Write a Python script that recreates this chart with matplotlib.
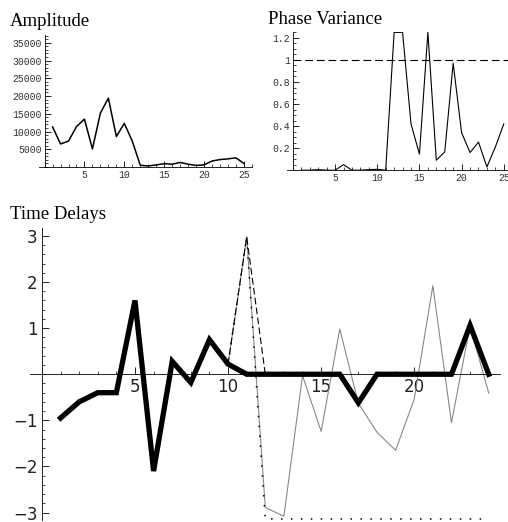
import numpy as np
import matplotlib
matplotlib.use('Agg')
import matplotlib.pyplot as plt
from matplotlib.ticker import FixedLocator, MultipleLocator, FixedFormatter

# amplitude per bin
amp_x = list(range(1, 26))
amp = [11300, 6500, 7300, 11400, 13500, 5100, 15200, 19400, 8600, 12300,
       7300, 500, 300, 600, 950, 800, 1300, 800, 450, 600,
       1700, 2100, 2300, 2600, 1000]

# phase variance per bin
ph_x = list(range(1, 26))
phase_var = [0.0, 0.0, 0.005, 0.0, 0.0, 0.05, 0.0, 0.0, 0.005, 0.008,
             0.0, 1.25, 1.25, 0.42, 0.145, 1.25, 0.09, 0.165, 0.97, 0.34,
             0.16, 0.255, 0.03, 0.21, 0.42]
threshold = 1.0

# time delays
td_x = list(range(1, 25))
delay_raw = [-0.95, -0.6, -0.4, -0.4, 1.6, -2.1, 0.28, -0.18, 0.75, 0.22,
             2.98, -2.89, -3.08, -0.03, -1.24, 0.98, -0.63, -1.26, -1.65, -0.54,
             1.92, -1.05, 1.05, -0.41]
delay_sel = [-0.95, -0.6, -0.4, -0.4, 1.6, -2.1, 0.28, -0.18, 0.75, 0.22,
             0, 0, 0, 0, 0, 0, -0.62, 0, 0, 0,
             0, 0, 1.06, 0]
dash_x = [10, 11, 12]
delay_dash = [0.22, 2.98, 0.0]
dot_x = list(range(10, 25))
delay_dot = [0.22, 2.98] + [-3.14] * 13

amp_ticks = [5000, 10000, 15000, 20000, 25000, 30000, 35000]
ph_ticks = [0.2, 0.4, 0.6, 0.8, 1.0, 1.2]
ph_labels = ['0.2', '0.4', '0.6', '0.8', '1', '1.2']
x_ticks_top = [5, 10, 15, 20, 25]
td_yticks = [-3, -2, -1, 1, 2, 3]
td_xticks = [5, 10, 15, 20]

fig = plt.figure(figsize=(5.08, 5.22), dpi=100)

mono = 'Liberation Mono'
serif = 'Liberation Serif'


def style_axes(ax, lab_font, lab_size, lab_color):
    for s in ['top', 'right']:
        ax.spines[s].set_visible(False)
    ax.spines['left'].set_position(('data', 0))
    ax.spines['bottom'].set_position(('data', 0))
    for s in ['left', 'bottom']:
        ax.spines[s].set_linewidth(0.6)
    ax.tick_params(which='major', direction='in', length=4, width=0.6,
                   labelsize=lab_size, labelcolor=lab_color, pad=2)
    ax.tick_params(which='minor', direction='in', length=2, width=0.5)
    for t in ax.get_xticklabels() + ax.get_yticklabels():
        t.set_fontfamily(lab_font)


# Amplitude
ax1 = fig.add_axes([0.0768, 0.680, 0.419, 0.253])
ax1.plot(amp_x, amp, color='black', lw=1.1)
ax1.set_xlim(-0.7, 26)
ax1.set_ylim(0, 37200)
ax1.xaxis.set_major_locator(FixedLocator(x_ticks_top))
ax1.xaxis.set_minor_locator(MultipleLocator(1))
ax1.yaxis.set_major_locator(FixedLocator(amp_ticks))
ax1.yaxis.set_minor_locator(MultipleLocator(1000))
style_axes(ax1, mono, 7, '#333333')
fig.text(0.02, 0.958, 'Amplitude', family=serif, fontsize=13.5, va='center')

# Phase Variance
ax2 = fig.add_axes([0.565, 0.674, 0.435, 0.265])
ax2.plot(ph_x, phase_var, color='black', lw=0.8)
ax2.axhline(threshold, xmin=0.7 / 26.2, color='black', lw=0.8, dashes=(7, 3.5))
ax2.set_xlim(-0.7, 25.5)
ax2.set_ylim(0, 1.255)
ax2.xaxis.set_major_locator(FixedLocator(x_ticks_top))
ax2.xaxis.set_minor_locator(MultipleLocator(1))
ax2.yaxis.set_major_locator(FixedLocator(ph_ticks))
ax2.yaxis.set_major_formatter(FixedFormatter(ph_labels))
ax2.yaxis.set_minor_locator(MultipleLocator(0.05))
style_axes(ax2, mono, 7, '#333333')
fig.text(0.527, 0.962, 'Phase Variance', family=serif, fontsize=13.5, va='center')

# Time Delays
ax3 = fig.add_axes([0.059, 0.004, 0.925, 0.559])
ax3.plot(td_x, delay_raw, color='#888888', lw=0.8)
ax3.plot(dash_x, delay_dash, color='black', lw=0.8, dashes=(6, 3))
ax3.plot(dot_x, delay_dot, color='black', lw=1.1, linestyle=(0, (1, 5.5)))
ax3.plot(td_x, delay_sel, color='black', lw=3.8, solid_joinstyle='miter')
ax3.set_xlim(-0.64, 24.6)
ax3.set_ylim(-3.16, 3.17)
ax3.xaxis.set_major_locator(FixedLocator(td_xticks))
ax3.xaxis.set_minor_locator(MultipleLocator(1))
ax3.yaxis.set_major_locator(FixedLocator(td_yticks))
ax3.yaxis.set_minor_locator(MultipleLocator(0.2))
style_axes(ax3, 'DejaVu Sans', 12, '#222222')
ax3.tick_params(which='major', length=5, pad=3)
fig.text(0.02, 0.590, 'Time Delays', family=serif, fontsize=13.5, va='center')

fig.savefig('out.png', dpi=100)
